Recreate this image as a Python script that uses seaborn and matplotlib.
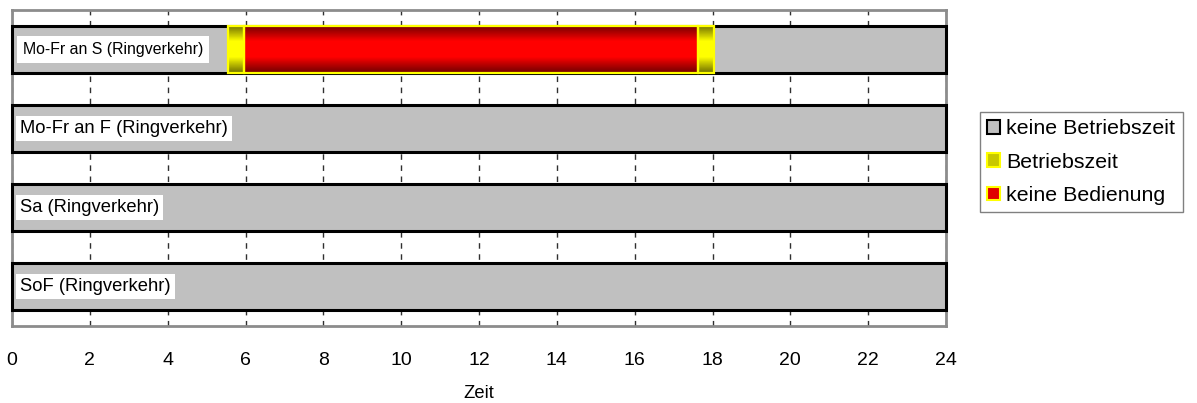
import numpy as np
import pandas as pd
import matplotlib
matplotlib.use("Agg")
import matplotlib.pyplot as plt
import seaborn as sns
from matplotlib.patches import Patch
from matplotlib.colors import LinearSegmentedColormap

# Zeilen (Verkehrstage) und Tageslaenge in Stunden
rows = ["Mo-Fr an S (Ringverkehr)", "Mo-Fr an F (Ringverkehr)",
        "Sa (Ringverkehr)", "SoF (Ringverkehr)"]
day_hours = [24, 24, 24, 24]

# Segmente in Zeile 0 (Mo-Fr an S)
betrieb_start = [5.55, 17.63]
betrieb_end = [5.97, 18.05]
bedienung_start = [5.97]
bedienung_end = [17.63]

xticks = list(range(0, 25, 2))
legend_labels = ["keine Betriebszeit", "Betriebszeit", "keine Bedienung"]

sns.set_style("white")
plt.rcParams["font.family"] = ["Liberation Sans", "DejaVu Sans"]
plt.rcParams["text.color"] = "black"
plt.rcParams["axes.labelcolor"] = "black"
plt.rcParams["xtick.color"] = "black"

fig = plt.figure(figsize=(11.97, 4.03), dpi=100)
ax = fig.add_axes([12 / 1197, 1 - 326 / 403, 934 / 1197, 316 / 403])

df = pd.DataFrame({"row": rows, "hours": day_hours})
sns.barplot(data=df, x="hours", y="row", orient="h", color="#C0C0C0",
            saturation=1, edgecolor="black", linewidth=2.2, width=0.6, ax=ax,
            zorder=3)
for p in ax.patches:
    p.set_clip_on(False)
    p.set_zorder(3)

bar_h = 0.6


def gradient_bar(y, x0, x1, dark, light, edge):
    cmap = LinearSegmentedColormap.from_list("g", [dark, light, light, dark])
    grad = np.linspace(0, 1, 64).reshape(-1, 1)
    ax.imshow(grad, cmap=cmap, aspect="auto", interpolation="bilinear",
              extent=(x0, x1, y + bar_h / 2, y - bar_h / 2), zorder=4)
    ax.barh(y, x1 - x0, left=x0, height=bar_h, facecolor="none",
            edgecolor=edge, linewidth=1.6, zorder=5)


for s, e in zip(bedienung_start, bedienung_end):
    gradient_bar(0, s, e, "#700000", "#FF0000", "#FFFF00")
for s, e in zip(betrieb_start, betrieb_end):
    gradient_bar(0, s, e, "#707000", "#FFFF00", "#FFFF00")

# Beschriftung der Zeilen
for i, name in enumerate(rows):
    if i == 0:
        ax.text(0.28, i, name, fontsize=11.4, va="center", ha="left", zorder=6,
                bbox=dict(facecolor="white", edgecolor="none", pad=4))
    else:
        ax.text(0.2, i, name, fontsize=13.2, va="center", ha="left", zorder=6,
                bbox=dict(facecolor="white", edgecolor="none", pad=3))

ax.set_xlim(0, 24)
ax.set_ylim(3.5, -0.5)
ax.set_xticks(xticks)
ax.set_xticklabels([str(t) for t in xticks], fontsize=14)
ax.tick_params(axis="x", length=0, pad=19)
ax.set_yticks([])
ax.set_ylabel("")
ax.set_xlabel("Zeit", fontsize=13.2, labelpad=11)

ax.grid(axis="x", color="#303030", linestyle=(0, (4, 4)), linewidth=1)
ax.set_axisbelow(True)
for sp in ax.spines.values():
    sp.set_color("#8C8C8C")
    sp.set_linewidth(2)
    sp.set_zorder(1)

handles = [
    Patch(facecolor="#C0C0C0", edgecolor="black", linewidth=1.5),
    Patch(facecolor="#C8C800", edgecolor="#FFFF00", linewidth=1.5),
    Patch(facecolor="#E00000", edgecolor="#FFFF00", linewidth=1.5),
]
leg = fig.legend(handles, legend_labels, loc="upper left",
                 bbox_to_anchor=(980 / 1197, 1 - 112 / 403), fontsize=15.4,
                 frameon=True, fancybox=False, handlelength=0.58,
                 handleheight=0.58, handletextpad=0.3, borderpad=0.35,
                 labelspacing=0.66, borderaxespad=0)
leg.get_frame().set_edgecolor("#606060")
leg.get_frame().set_linewidth(1)

fig.savefig("out.png", dpi=100)
